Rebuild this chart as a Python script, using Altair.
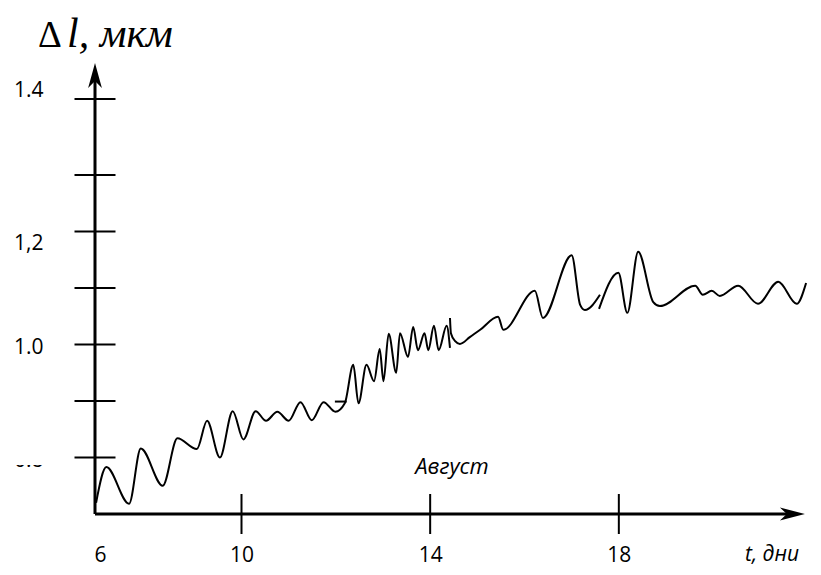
import altair as alt
import pandas as pd

# ---- data (day of August, elongation in µm) ----
seg_a_day = [6.03, 6.31, 6.93, 7.25, 7.85, 8.25, 8.78, 9.06, 9.41, 9.76,
             10.04, 10.30, 10.52, 10.76, 11.00, 11.25, 11.49, 11.74, 11.99, 12.19,
             12.37, 12.48, 12.65, 12.81, 12.93, 13.01, 13.12, 13.28, 13.36, 13.53,
             13.64, 13.74, 13.88, 13.96, 14.08, 14.18, 14.35, 14.42]
seg_a_val = [0.720, 0.783, 0.718, 0.816, 0.750, 0.834, 0.815, 0.865, 0.800, 0.882,
             0.832, 0.882, 0.865, 0.881, 0.865, 0.898, 0.866, 0.898, 0.881, 0.896,
             0.964, 0.896, 0.964, 0.935, 0.992, 0.935, 1.019, 0.950, 1.020, 0.978,
             1.031, 0.990, 1.020, 0.990, 1.033, 0.990, 1.033, 0.994]

seg_b_day = [14.42, 14.44, 14.53, 14.63, 14.84, 15.06, 15.44, 15.55, 16.22, 16.39,
             17.00, 17.18, 17.28, 17.60]
seg_b_val = [1.047, 1.020, 1.006, 1.001, 1.013, 1.026, 1.049, 1.026, 1.095, 1.047,
             1.158, 1.070, 1.061, 1.088]

seg_c_day = [17.58, 17.99, 18.18, 18.41, 18.73, 18.87, 19.62, 19.78, 19.97, 20.14,
             20.53, 20.95, 21.38, 21.77, 21.97]
seg_c_val = [1.063, 1.127, 1.056, 1.164, 1.075, 1.068, 1.104, 1.088, 1.095, 1.086,
             1.104, 1.072, 1.111, 1.072, 1.109]

seg_d_day = [11.98, 12.23]
seg_d_val = [0.899, 0.899]

y_tick_values = [0.8, 0.9, 1.0, 1.1, 1.2, 1.3, 1.4]
y_label_values = [1.4, 1.2, 1.0, 0.8]
x_tick_values = [10, 14, 18]
x_label_values = [6, 10, 14, 18]

x_origin = 6
y_origin = 0.7
x_arrow = 21.68
y_arrow = 1.431

# ---- tables ----
rows = []
for name, days, vals in [("a", seg_a_day, seg_a_val), ("b", seg_b_day, seg_b_val),
                         ("c", seg_c_day, seg_c_val), ("d", seg_d_day, seg_d_val)]:
    for i, (d, v) in enumerate(zip(days, vals)):
        rows.append({"day": d, "val": v, "seg": name, "i": i})
curve_df = pd.DataFrame(rows)

W, H = 718, 415
x_scale = alt.Scale(domain=[6, 10, 22], range=[0, 146.5, 712.5], nice=False, zero=False)
y_scale = alt.Scale(domain=[0.7, 1.3, 1.4], range=[415, 76, 0], nice=False, zero=False)

x_axis = alt.Axis(values=x_label_values, domain=False, ticks=False, grid=False,
                  labelFont="Open Sans", labelFontSize=21, labelColor="black",
                  labelBaseline="alphabetic", labelPadding=47,
                  labelOffset={"condition": {"test": "datum.value < 7", "value": 5},
                               "value": 0},
                  labelFlush=False, labelOverlap=False, title=None)
y_axis = alt.Axis(values=y_label_values, domain=False, ticks=False, grid=False,
                  labelFont="Open Sans", labelFontSize=21, labelColor="black",
                  labelPadding=52, labelFlush=False, labelOverlap=False, title=None,
                  labelOffset={"condition": [{"test": "datum.value > 1.3", "value": -9},
                                             {"test": "datum.value > 1.1", "value": 12}],
                               "value": 3},
                  labelExpr="datum.value == 1.2 ? '1,2' : format(datum.value, '.1f')")


def X(field, **kw):
    return alt.X(field, scale=x_scale, axis=x_axis, **kw)


def Y(field, **kw):
    return alt.Y(field, scale=y_scale, axis=y_axis, **kw)


curve = alt.Chart(curve_df).mark_line(
    color="black", strokeWidth=2, interpolate="monotone"
).encode(x=X("day:Q"), y=Y("val:Q"), detail="seg:N", order="i:Q")

# axis lines
yline = alt.Chart(pd.DataFrame({"y0": [y_origin], "y1": [y_arrow], "x": [x_origin]})).mark_rule(
    color="black", strokeWidth=3
).encode(x=X("x:Q"), y=Y("y0:Q"), y2="y1:Q")
xline = alt.Chart(pd.DataFrame({"x0": [x_origin], "x1": [x_arrow], "y": [y_origin]})).mark_rule(
    color="black", strokeWidth=3
).encode(x=X("x0:Q"), x2="x1:Q", y=Y("y:Q"))

yticks = alt.Chart(pd.DataFrame({"v": y_tick_values, "x": [x_origin] * len(y_tick_values)})).mark_tick(
    orient="horizontal", size=41, thickness=2, color="black", opacity=1
).encode(x=X("x:Q"), y=Y("v:Q"))
xticks = alt.Chart(pd.DataFrame({"d": x_tick_values, "y": [y_origin] * len(x_tick_values)})).mark_tick(
    orient="vertical", size=40, thickness=2, color="black", opacity=1
).encode(x=X("d:Q"), y=Y("y:Q"))

up_arrow = "M0,-1L0.55,1L0,0.45L-0.55,1Z"
right_arrow = "M1,0L-1,0.52L-0.45,0L-1,-0.52Z"
yhead = alt.Chart(pd.DataFrame({"x": [x_origin], "y": [y_arrow]})).mark_point(
    shape=up_arrow, filled=True, size=625, color="black", opacity=1, strokeWidth=0
).encode(x=X("x:Q"), y=Y("y:Q"))
xhead = alt.Chart(pd.DataFrame({"x": [x_arrow], "y": [y_origin]})).mark_point(
    shape=right_arrow, filled=True, size=625, color="black", opacity=1, strokeWidth=0
).encode(x=X("x:Q"), y=Y("y:Q"))

# partially hidden "0.8" label, as in the reference
hide = alt.Chart(pd.DataFrame({"k": [0]})).mark_rect(color="white", opacity=1).encode(
    x=alt.value(-88), x2=alt.value(-40), y=alt.value(335), y2=alt.value(366)
)


def label(txt, x, y, font, size, style="normal", align="left"):
    return alt.Chart(pd.DataFrame({"t": [txt]})).mark_text(
        font=font, fontSize=size, fontStyle=style, align=align, baseline="alphabetic",
        color="black"
    ).encode(text="t:N", x=alt.value(x), y=alt.value(y))


delta = label("\u0394", -57, -52, "Liberation Serif", 37)
ytitle = label("l, мкм", -28, -52, "Liberation Serif", 42, "italic")
month = label("Август", 357, 375, "Open Sans", 22, "italic", "center")
xtitle = label("t, дни", 650, 462, "Open Sans", 21, "italic")

chart = alt.layer(
    curve, yline, xline, yticks, xticks, yhead, xhead, hide,
    delta, ytitle, month, xtitle
).properties(
    width=W, height=H,
    autosize=alt.AutoSizeParams(type="none"),
    padding={"left": 87, "top": 91, "right": 0, "bottom": 53},
    background="white",
).configure_view(stroke=None)

chart.save("out.html", embed_options={"renderer": "svg", "actions": False})
